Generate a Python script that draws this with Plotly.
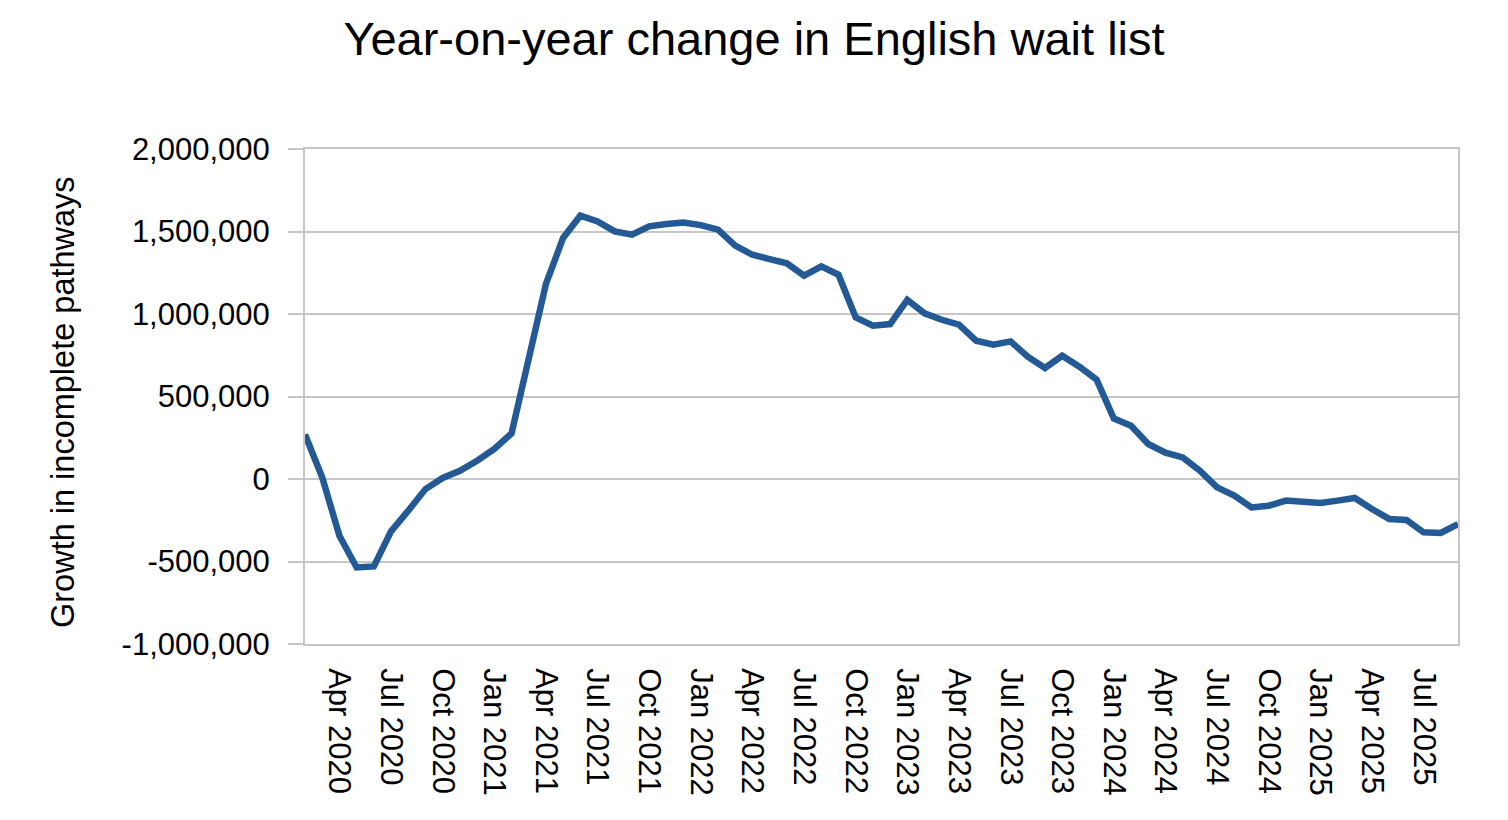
import plotly.graph_objects as go

months = [
    "Feb 2020", "Mar 2020", "Apr 2020", "May 2020", "Jun 2020", "Jul 2020", "Aug 2020", "Sep 2020",
    "Oct 2020", "Nov 2020", "Dec 2020",
    "Jan 2021", "Feb 2021", "Mar 2021", "Apr 2021", "May 2021", "Jun 2021", "Jul 2021", "Aug 2021",
    "Sep 2021", "Oct 2021", "Nov 2021", "Dec 2021",
    "Jan 2022", "Feb 2022", "Mar 2022", "Apr 2022", "May 2022", "Jun 2022", "Jul 2022", "Aug 2022",
    "Sep 2022", "Oct 2022", "Nov 2022", "Dec 2022",
    "Jan 2023", "Feb 2023", "Mar 2023", "Apr 2023", "May 2023", "Jun 2023", "Jul 2023", "Aug 2023",
    "Sep 2023", "Oct 2023", "Nov 2023", "Dec 2023",
    "Jan 2024", "Feb 2024", "Mar 2024", "Apr 2024", "May 2024", "Jun 2024", "Jul 2024", "Aug 2024",
    "Sep 2024", "Oct 2024", "Nov 2024", "Dec 2024",
    "Jan 2025", "Feb 2025", "Mar 2025", "Apr 2025", "May 2025", "Jun 2025", "Jul 2025", "Aug 2025",
    "Sep 2025",
]

growth = [
    270000, 10000, -344000, -536000, -530000, -317000, -192000, -61000,
    6000, 50000, 111000,
    182000, 276000, 737000, 1182000, 1461000, 1596000, 1561000, 1501000,
    1481000, 1531000, 1545000, 1555000,
    1539000, 1511000, 1414000, 1359000, 1333000, 1307000, 1232000, 1289000,
    1238000, 979000, 929000, 939000,
    1085000, 1004000, 965000, 935000, 838000, 814000, 834000, 741000,
    673000, 747000, 681000, 602000,
    367000, 323000, 212000, 160000, 131000, 50000, -51000, -101000,
    -172000, -162000, -131000, -142000,
    -146000, -131000, -115000, -182000, -242000, -248000, -323000, -327000,
    -273000,
]

tick_labels = [m for m in months if m.split()[0] in ("Jan", "Apr", "Jul", "Oct")]

y_tickvals = [-1000000, -500000, 0, 500000, 1000000, 1500000, 2000000]
y_ticktext = ["-1,000,000", "-500,000", "0", "500,000", "1,000,000", "1,500,000", "2,000,000"]

title_text = "Year-on-year change in English wait list"
y_title = "Growth in incomplete pathways"

FONT = "Liberation Sans, Arial, sans-serif"
GRID = "#c6c6c6"
LINE = "#235a96"

W, H = 1508, 820
L, T = 297, 141
plot_w, plot_h = 1153, 495
R = W - L - plot_w
B = H - T - plot_h

fig = go.Figure()
fig.add_trace(go.Scatter(
    x=months, y=growth, mode="lines",
    line=dict(color=LINE, width=6.5),
    showlegend=False, hoverinfo="x+y",
))

fig.update_layout(
    width=W, height=H,
    margin=dict(l=L, r=R, t=T, b=B, autoexpand=False),
    paper_bgcolor="white", plot_bgcolor="white",
    font=dict(family=FONT, color="black"),
    title=dict(
        text=title_text, x=(754 - 8) / W, xanchor="center",
        y=1 - 31 / H, yanchor="middle", yref="container",
        font=dict(size=47, family=FONT, color="black"),
    ),
)

fig.update_xaxes(
    type="category",
    categoryorder="array", categoryarray=months,
    range=[0, len(months) - 1],
    tickmode="array", tickvals=tick_labels, ticktext=tick_labels,
    tickangle=90,
    tickfont=dict(size=31, family=FONT, color="black"),
    showgrid=False, zeroline=False,
    showline=True, linecolor=GRID, linewidth=2, mirror=True,
    ticks="", ticklabelstandoff=16,
)

fig.update_yaxes(
    range=[-1000000, 2000000],
    tickmode="array", tickvals=y_tickvals, ticktext=y_ticktext,
    tickfont=dict(size=31, family=FONT, color="black"),
    showgrid=True, gridcolor=GRID, gridwidth=2,
    zeroline=True, zerolinecolor=GRID, zerolinewidth=2,
    showline=True, linecolor=GRID, linewidth=2, mirror=True,
    ticks="outside", ticklen=15, tickcolor=GRID, tickwidth=2,
    ticklabelstandoff=12,
)

fig.add_annotation(
    text=y_title, textangle=-90,
    xref="paper", yref="paper",
    x=(63 - 8 - L) / plot_w, y=(T + plot_h - (402 - 8)) / plot_h,
    xanchor="center", yanchor="middle", showarrow=False,
    font=dict(size=32.5, family=FONT, color="black"),
)

fig.write_html("out.html")
